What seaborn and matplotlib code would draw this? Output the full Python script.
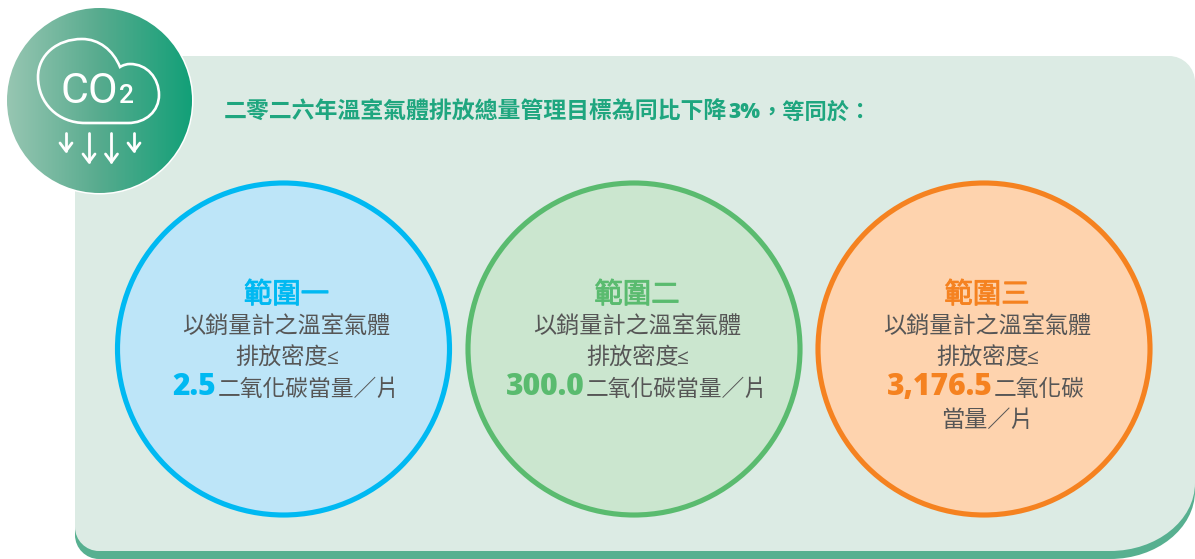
import numpy as np
import pandas as pd
import seaborn as sns
import matplotlib.pyplot as plt
import matplotlib.patheffects as pe
from matplotlib.path import Path
from matplotlib.patches import PathPatch, Circle

scopes = ["範圍一", "範圍二", "範圍三"]
numbers = ["2.5", "300.0", "3,176.5"]
after_number = ["二氧化碳當量／片", "二氧化碳當量／片", "二氧化碳"]
extra_line = ["", "", "當量／片"]
line1 = "以銷量計之溫室氣體"
line2 = "排放密度"
title_a = "二零二六年溫室氣體排放總量管理目標為同比下降"
title_b = "3%"
title_c = "，等同於："
edge_colors = ["#00b9f2", "#5abb6f", "#f58220"]
fill_colors = ["#bde5f8", "#cbe6cf", "#fed3ae"]

# layout, in pixels of the picture
circle_x = [283.5, 634, 984]
split_x = [216.5, 584.5, 992.5]

sns.set_theme(style="white")
plt.rcParams["font.family"] = ["Noto Sans CJK TC", "DejaVu Sans"]

fig, ax = plt.subplots(figsize=(11.95, 5.59), dpi=100)
ax.set_position([0, 0, 1, 1])
ax.set_xlim(0, 1195)
ax.set_ylim(559, 0)
ax.axis("off")


def panel(top, bottom, left=75, right=1195, rt=26, rbx=85, rby=68, rl=24):
    k = 0.55
    verts = [(left, top), (right - rt, top),
             (right - rt * (1 - k), top), (right, top + rt * (1 - k)), (right, top + rt),
             (right, bottom - rby),
             (right, bottom - rby * (1 - k)), (right - rbx * (1 - k), bottom), (right - rbx, bottom),
             (left + rl, bottom),
             (left + rl * (1 - k), bottom), (left, bottom - rl * (1 - k)), (left, bottom - rl),
             (left, top)]
    codes = [Path.MOVETO, Path.LINETO, Path.CURVE4, Path.CURVE4, Path.CURVE4,
             Path.LINETO, Path.CURVE4, Path.CURVE4, Path.CURVE4,
             Path.LINETO, Path.CURVE4, Path.CURVE4, Path.CURVE4, Path.CLOSEPOLY]
    return Path(verts, codes)


ax.add_patch(PathPatch(panel(64, 559), fc="#57b090", ec="none", zorder=1))
ax.add_patch(PathPatch(panel(56, 551), fc="#dcebe4", ec="none", zorder=2))

# the three circles
df = pd.DataFrame({"x": circle_x, "y": [349] * 3, "scope": scopes})
d_pt = 332 * 72 / 100
sns.scatterplot(data=df, x="x", y="y", hue="scope", palette=fill_colors, s=d_pt ** 2,
                edgecolor=edge_colors, linewidth=3.7, legend=False, ax=ax, zorder=3)
ax.set_xlabel("")
ax.set_ylabel("")

body = "#565656"
for i, cx in enumerate(circle_x):
    ax.text(cx + 3, 295, scopes[i], color=edge_colors[i], fontsize=20.5, ha="center", va="center", zorder=5,
            path_effects=[pe.withStroke(linewidth=0.6, foreground=edge_colors[i])])
    ax.text(cx + 3, 327, line1, color=body, fontsize=16.7, ha="center", va="center", zorder=5)
    ax.text(cx - 1.5, 358, line2, color=body, fontsize=16.7, ha="center", va="center", zorder=5)
    ax.text(cx + 43, 364, "≤", color=body, fontsize=15, family="Open Sans",
            ha="left", va="baseline", zorder=5)
    ax.text(split_x[i], 395, numbers[i], color=edge_colors[i], fontsize=21.6, fontweight=800,
            family="Open Sans", ha="right", va="baseline", zorder=5)
    ax.text(split_x[i] + 1, 389, after_number[i], color=body, fontsize=16.4, ha="left", va="center", zorder=5)
    if extra_line[i]:
        ax.text(cx + 3, 420, extra_line[i], color=body, fontsize=16.7, ha="center", va="center", zorder=5)

ax.text(224, 112, title_a, color="#1fa67f", fontsize=16.5, fontweight="bold", ha="left", va="center", zorder=5)
ax.text(728, 118, title_b, color="#1fa67f", fontsize=15, fontweight=800, family="Open Sans",
        ha="left", va="baseline", zorder=5)
ax.text(760, 112, title_c, color="#1fa67f", fontsize=16, fontweight="bold", ha="left", va="center", zorder=5)

# CO2 badge
ax.add_patch(Circle((99.5, 100.5), 94, fc="white", ec="none", zorder=6))
grad_colors = sns.blend_palette(["#97c6b2", "#57ab8e", "#12a078"], as_cmap=True)
im = ax.imshow(np.linspace(0, 1, 256).reshape(1, -1), cmap=grad_colors, extent=(7, 192, 193, 8),
               aspect="auto", zorder=7)
im.set_clip_path(Circle((99.5, 100.5), 92.5, transform=ax.transData))
ax.set_xlim(0, 1195)
ax.set_ylim(559, 0)

cloud = Path([(85, 123), (58, 123), (38, 103), (38, 77), (38, 55), (57, 39), (82, 39),
              (99, 39), (113, 50), (120, 67), (123, 65), (127, 64), (130, 64),
              (147, 64), (159, 78), (159, 95), (159, 111), (146, 123), (128, 123), (85, 123)],
             [Path.MOVETO] + [Path.CURVE4] * 18 + [Path.LINETO])
ax.add_patch(PathPatch(cloud, fc="none", ec="white", lw=1.9, zorder=8))
ax.text(61, 103, "CO", color="white", fontsize=31, family="Roboto", fontweight="regular",
        ha="left", va="baseline", zorder=8)
ax.text(119.5, 103, "2", color="white", fontsize=19, family="Roboto", fontweight="medium",
        ha="left", va="baseline", zorder=8)

for ax_x, tip in zip([66, 89, 111.5, 134], [151, 162, 162, 151]):
    ax.plot([ax_x, ax_x], [133, tip], color="white", lw=2, zorder=8)
    ax.plot([ax_x - 6, ax_x, ax_x + 6], [tip - 8, tip, tip - 8], color="white", lw=2, zorder=8)

fig.savefig("out.png", dpi=100)
